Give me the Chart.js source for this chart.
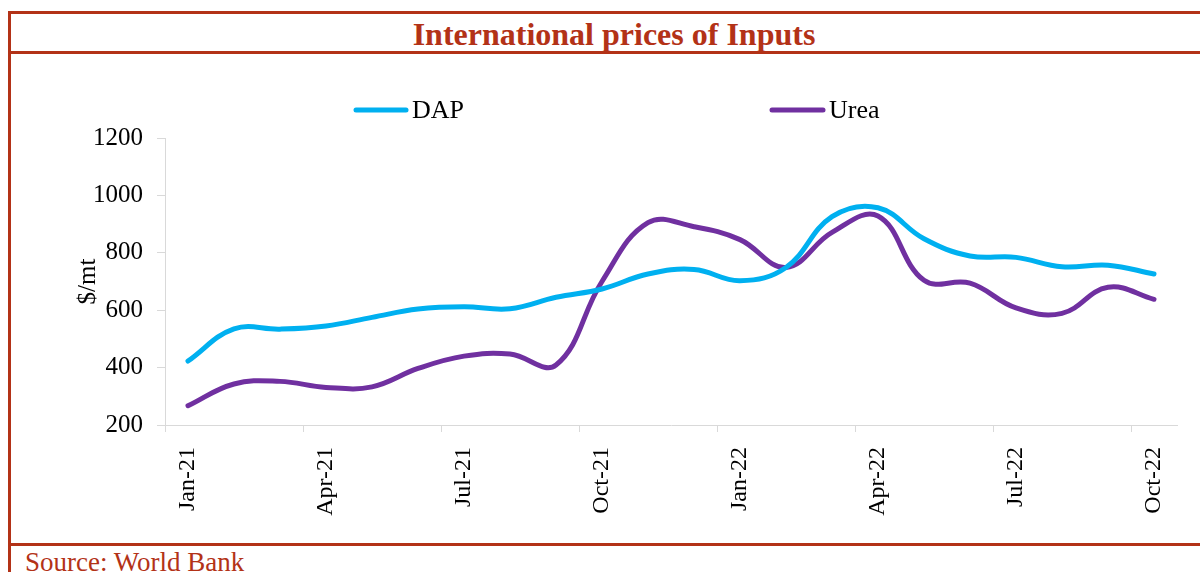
<!DOCTYPE html>
<html lang="en">
  <head>
    <meta charset="utf-8">
    <title>International prices of Inputs</title>
    <script src="https://cdn.jsdelivr.net/npm/chart.js@4.4.0/dist/chart.umd.min.js"></script>
    <style>
      html, body { margin: 0; padding: 0; background: #fff; }
      body { width: 1200px; height: 572px; position: relative; overflow: hidden; font-family: "Liberation Serif", "Times New Roman", serif; }
      .rule { position: absolute; background: #B33217; }
      #title { position: absolute; left: 28px; width: 1172px; top: 18px; text-align: center; font-size: 32px; line-height: 32px; font-weight: bold; color: #B33217; }
      #source { position: absolute; left: 25px; top: 549px; font-size: 27px; line-height: 27px; color: #B33217; white-space: nowrap; }
      #wrap { position: absolute; left: 11px; top: 55px; width: 1189px; height: 488px; }
    </style>
  </head>
  <body>
    <div class="rule" style="left:8px; top:11px; width:1192px; height:3px;"></div>
    <div class="rule" style="left:8px; top:51px; width:1192px; height:3px;"></div>
    <div class="rule" style="left:8px; top:543px; width:1192px; height:3px;"></div>
    <div class="rule" style="left:8px; top:11px; width:3px; height:561px;"></div>
    <div id="title">International prices of Inputs</div>
    <div id="wrap"><canvas id="chart"></canvas></div>
    <div id="source">Source: World Bank</div>

  <script>
    // monthly prices, $/mt
    var months = ["Jan-21", "Feb-21", "Mar-21", "Apr-21", "May-21", "Jun-21", "Jul-21", "Aug-21", "Sep-21", "Oct-21", "Nov-21", "Dec-21",
                  "Jan-22", "Feb-22", "Mar-22", "Apr-22", "May-22", "Jun-22", "Jul-22", "Aug-22", "Sep-22", "Oct-22"];
    var dap  = [423, 535, 534, 545, 575, 604, 612, 605, 645, 674, 726, 742, 703, 749, 926, 957, 849, 789, 784, 751, 757, 726];
    var urea = [267, 343, 352, 331, 333, 397, 440, 447, 409, 700, 905, 891, 846, 749, 871, 928, 704, 694, 608, 589, 680, 638];
    var yTicks = [200, 400, 600, 800, 1000, 1200];

    var serif = "'Liberation Serif', 'Times New Roman', serif";

    // legend drawn by hand so the two items can sit far apart like the original
    var legendSpots = [{x: 345, w: 50}, {x: 761, w: 51}];
    var lineLegend = {
      id: 'lineLegend',
      afterDraw: function(chart) {
        var ctx = chart.ctx;
        ctx.save();
        chart.data.datasets.forEach(function(ds, i) {
          var p = legendSpots[i];
          ctx.strokeStyle = ds.borderColor;
          ctx.lineWidth = 5;
          ctx.lineCap = 'round';
          ctx.beginPath();
          ctx.moveTo(p.x, 55);
          ctx.lineTo(p.x + p.w, 55);
          ctx.stroke();
          ctx.fillStyle = '#000';
          ctx.font = "26px " + serif;
          ctx.textBaseline = 'middle';
          ctx.fillText(ds.label, p.x + p.w + 6, 56);
        });
        ctx.restore();
      }
    };

    new Chart(document.getElementById("chart"), {
      type: 'line',
      data: {
        labels: months,
        datasets: [
          { label: "DAP", data: dap, borderColor: "#00B0F0", backgroundColor: "#00B0F0",
            borderWidth: 5, pointRadius: 0, tension: 0.4, borderCapStyle: 'round' },
          { label: "Urea", data: urea, borderColor: "#7030A0", backgroundColor: "#7030A0",
            borderWidth: 5, pointRadius: 0, tension: 0.4, borderCapStyle: 'round' }
        ]
      },
      options: {
        responsive: true,
        maintainAspectRatio: false,
        animation: false,
        layout: { padding: { top: 83, left: 58, right: 23, bottom: 0 } },
        plugins: {
          legend: { display: false },
          tooltip: { enabled: false }
        },
        scales: {
          x: {
            type: 'category',
            offset: true,
            afterFit: function(scale) { scale.height = 118; },
            border: { color: '#d9d9d9', width: 1 },
            grid: {
              offset: true,
              drawOnChartArea: false,
              tickLength: 7,
              color: function(c) { return c.index % 3 === 0 ? '#d9d9d9' : 'rgba(0,0,0,0)'; }
            },
            ticks: {
              autoSkip: false,
              minRotation: 90,
              maxRotation: 90,
              padding: 15,
              color: '#000',
              font: { family: serif, size: 24 },
              callback: function(v, i) { return i % 3 === 0 ? months[i] : ''; }
            }
          },
          y: {
            min: yTicks[0],
            max: yTicks[yTicks.length - 1],
            afterFit: function(scale) { scale.width = 96; },
            afterBuildTicks: function(scale) { scale.ticks = yTicks.map(function(v) { return {value: v}; }); },
            border: { color: '#d9d9d9', width: 1 },
            grid: { drawOnChartArea: false, tickLength: 8, color: '#d9d9d9' },
            ticks: {
              padding: 14, color: '#000', font: { family: serif, size: 25 },
              callback: function(v) { return String(v); }
            },
            title: { display: true, text: "$/mt", color: '#000', font: { family: serif, size: 25 }, padding: { top: 4, bottom: 4 } }
          }
        }
      },
      plugins: [lineLegend]
    });
  </script>
  </body>
</html>
